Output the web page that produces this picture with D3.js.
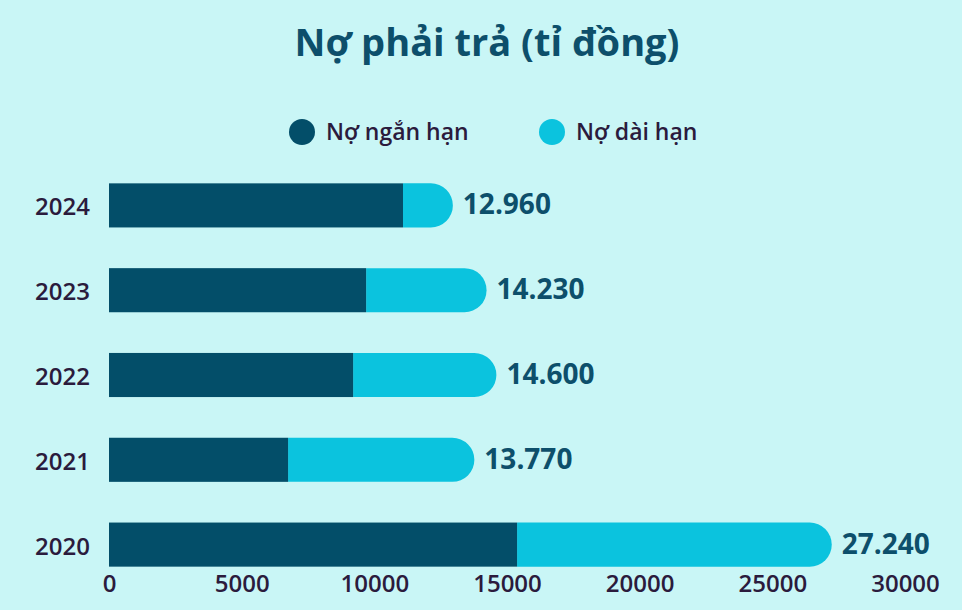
<!DOCTYPE html>
<html><head><meta charset="utf-8">
<script src="https://cdn.jsdelivr.net/npm/d3@7"></script>
<style>body{margin:0;background:#c9f6f6;}svg{display:block;font-family:"Open Sans",sans-serif;}</style>
</head><body>
<script>
const years = ["2024","2023","2022","2021","2020"];
const shortTerm = [11080, 9690, 9200, 6750, 15380];
const totals = [12960, 14230, 14600, 13770, 27240];
const totalLabels = ["12.960","14.230","14.600","13.770","27.240"];
const ticks = [0,5000,10000,15000,20000,25000,30000];
const seriesNames = ["Nợ ngắn hạn","Nợ dài hạn"];
const colors = ["#034e69","#0bc3de"];

const W=962,H=610;
const svg=d3.select("body").append("svg").attr("width",W).attr("height",H);
svg.append("rect").attr("width",W).attr("height",H).attr("fill","#c9f6f6");
const x=d3.scaleLinear().domain([0,30000]).range([109,905]);
const y=d3.scaleBand().domain(years).range([163,587]).paddingInner(0.48).paddingOuter(0.24);
const bh=y.bandwidth();

svg.append("text").attr("x",487).attr("y",56).attr("text-anchor","middle")
 .attr("font-size",38).attr("font-weight",700).attr("fill","#0d4f6b").text("Nợ phải trả  (tỉ đồng)");

const leg=[{x:302,t:seriesNames[0],c:colors[0]},{x:552,t:seriesNames[1],c:colors[1]}];
leg.forEach(l=>{
 svg.append("circle").attr("cx",l.x).attr("cy",132).attr("r",13).attr("fill",l.c);
 svg.append("text").attr("x",l.x+24).attr("y",140).attr("font-size",23).attr("font-weight",600).attr("fill","#2b1b3d").text(l.t);
});

years.forEach((yr,i)=>{
 const y0=y(yr), r=bh/2;
 const xe=x(totals[i]);
 svg.append("path").attr("fill",colors[1])
  .attr("d",`M${x(shortTerm[i])},${y0}H${xe-r}A${r},${r} 0 0 1 ${xe-r},${y0+bh}H${x(shortTerm[i])}Z`);
 svg.append("rect").attr("x",x(0)).attr("y",y0).attr("width",x(shortTerm[i])-x(0)).attr("height",bh).attr("fill",colors[0]);
 svg.append("text").attr("x",xe+10).attr("y",y0+r+9).attr("font-size",28).attr("font-weight",700).attr("fill","#0d4f6b").text(totalLabels[i]);
 svg.append("text").attr("x",90).attr("y",y0+r+10).attr("text-anchor","end").attr("font-size",24).attr("font-weight",600).attr("fill","#2b1b3d").text(yr);
});

const ax=svg.append("g").attr("transform","translate(0,575)")
 .call(d3.axisBottom(x).tickValues(ticks).tickFormat(d3.format("d")).tickSize(0).tickPadding(0));
ax.select(".domain").remove();
ax.selectAll("text").attr("font-size",24).attr("font-weight",600).attr("fill","#2b1b3d").attr("font-family","Open Sans, sans-serif").attr("dy","0.71em");
</script>
</body></html>
